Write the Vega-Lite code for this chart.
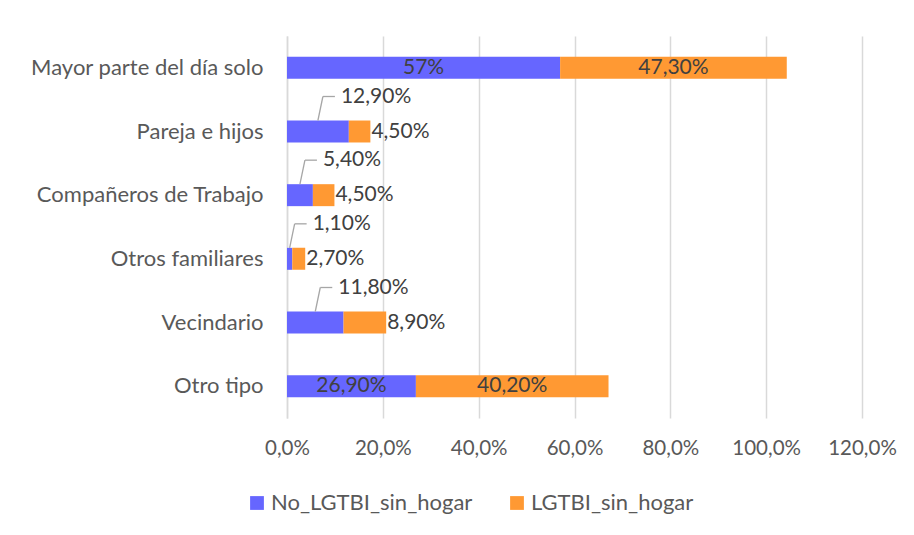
{
  "$schema": "https://vega.github.io/schema/vega-lite/v6.json",
  "width": 575,
  "height": 382,
  "padding": {"left": 17, "top": 36, "right": 52, "bottom": 5},
  "background": "white",
  "config": {"font": "Lato", "view": {"stroke": null}},
  "data": {
    "values": [
      {"categoria": "Mayor parte del día solo", "grupo": "No_LGTBI_sin_hogar", "valor": 57, "etiqueta": "57%"},
      {"categoria": "Mayor parte del día solo", "grupo": "LGTBI_sin_hogar", "valor": 47.3, "etiqueta": "47,30%"},
      {"categoria": "Pareja e hijos", "grupo": "No_LGTBI_sin_hogar", "valor": 12.9, "etiqueta": "12,90%"},
      {"categoria": "Pareja e hijos", "grupo": "LGTBI_sin_hogar", "valor": 4.5, "etiqueta": "4,50%"},
      {"categoria": "Compañeros de Trabajo", "grupo": "No_LGTBI_sin_hogar", "valor": 5.4, "etiqueta": "5,40%"},
      {"categoria": "Compañeros de Trabajo", "grupo": "LGTBI_sin_hogar", "valor": 4.5, "etiqueta": "4,50%"},
      {"categoria": "Otros familiares", "grupo": "No_LGTBI_sin_hogar", "valor": 1.1, "etiqueta": "1,10%"},
      {"categoria": "Otros familiares", "grupo": "LGTBI_sin_hogar", "valor": 2.7, "etiqueta": "2,70%"},
      {"categoria": "Vecindario", "grupo": "No_LGTBI_sin_hogar", "valor": 11.8, "etiqueta": "11,80%"},
      {"categoria": "Vecindario", "grupo": "LGTBI_sin_hogar", "valor": 8.9, "etiqueta": "8,90%"},
      {"categoria": "Otro tipo", "grupo": "No_LGTBI_sin_hogar", "valor": 26.9, "etiqueta": "26,90%"},
      {"categoria": "Otro tipo", "grupo": "LGTBI_sin_hogar", "valor": 40.2, "etiqueta": "40,20%"}
    ]
  },
  "transform": [
    {"stack": "valor", "groupby": ["categoria"], "sort": [{"field": "grupo", "order": "descending"}], "as": ["x0", "x1"]},
    {"calculate": "(datum.x0 + datum.x1) / 2", "as": "xmid"}
  ],
  "encoding": {
    "y": {
      "field": "categoria",
      "type": "nominal",
      "sort": ["Mayor parte del día solo", "Pareja e hijos", "Compañeros de Trabajo", "Otros familiares", "Vecindario", "Otro tipo"],
      "scale": {"paddingInner": 0.655, "paddingOuter": 0.3275},
      "axis": {
        "title": null,
        "domain": true,
        "domainColor": "#d9d9d9",
        "domainWidth": 1.5,
        "ticks": false,
        "labelPadding": 24,
        "labelFontSize": 22,
        "labelLimit": 300,
        "labelColor": "#595959",
        "minExtent": 270,
        "maxExtent": 270
      }
    }
  },
  "layer": [
    {
      "mark": {"type": "bar"},
      "encoding": {
        "x": {
          "field": "x0",
          "type": "quantitative",
          "scale": {"domain": [0, 120], "nice": false},
          "axis": {
            "title": null,
            "values": [0, 20, 40, 60, 80, 100, 120],
            "grid": true,
            "gridColor": "#d9d9d9",
            "gridWidth": 1.5,
            "domain": false,
            "ticks": false,
            "labelPadding": 20,
            "labelFontSize": 20.5,
            "labelFlush": false,
            "labelOverlap": false,
            "labelColor": "#595959",
            "labelExpr": "replace(format(datum.value, '.1f'), '.', ',') + '%'"
          }
        },
        "x2": {"field": "x1"},
        "color": {
          "field": "grupo",
          "type": "nominal",
          "scale": {"domain": ["No_LGTBI_sin_hogar", "LGTBI_sin_hogar"], "range": ["#6666ff", "#ff9933"]},
          "legend": {
            "title": null,
            "orient": "none",
            "direction": "horizontal",
            "legendX": -41,
            "legendY": 456,
            "symbolType": "square",
            "symbolSize": 190,
            "symbolStrokeWidth": 0,
            "labelFontSize": 22,
            "labelLimit": 400,
            "labelColor": "#595959",
            "labelOffset": 3,
            "columnPadding": 33
          }
        }
      }
    },
    {
      "transform": [{"filter": "datum.categoria == 'Mayor parte del día solo' || datum.categoria == 'Otro tipo'"}],
      "mark": {"type": "text", "align": "center", "baseline": "middle", "fontSize": 21, "color": "#404040"},
      "encoding": {
        "x": {"field": "xmid", "type": "quantitative"},
        "text": {"field": "etiqueta"}
      }
    },
    {
      "transform": [{"filter": "datum.categoria != 'Mayor parte del día solo' && datum.categoria != 'Otro tipo' && datum.grupo == 'LGTBI_sin_hogar'"}],
      "mark": {"type": "text", "align": "left", "baseline": "middle", "dx": 1, "fontSize": 21, "color": "#404040"},
      "encoding": {
        "x": {"field": "x1", "type": "quantitative"},
        "text": {"field": "etiqueta"}
      }
    },
    {
      "transform": [{"filter": "datum.categoria != 'Mayor parte del día solo' && datum.categoria != 'Otro tipo' && datum.grupo == 'No_LGTBI_sin_hogar'"}],
      "mark": {"type": "text", "align": "left", "baseline": "middle", "dx": 23, "dy": -35, "fontSize": 21, "color": "#404040"},
      "encoding": {
        "x": {"field": "xmid", "type": "quantitative"},
        "text": {"field": "etiqueta"}
      }
    },
    {
      "transform": [{"filter": "datum.categoria != 'Mayor parte del día solo' && datum.categoria != 'Otro tipo' && datum.grupo == 'No_LGTBI_sin_hogar'"}],
      "mark": {"type": "rule", "color": "#a6a6a6", "strokeWidth": 1.3, "yOffset": -11, "y2Offset": -35, "x2Offset": 5},
      "encoding": {
        "x": {"field": "xmid", "type": "quantitative"},
        "x2": {"field": "xmid"},
        "y2": {"field": "categoria"}
      }
    },
    {
      "transform": [{"filter": "datum.categoria != 'Mayor parte del día solo' && datum.categoria != 'Otro tipo' && datum.grupo == 'No_LGTBI_sin_hogar'"}],
      "mark": {"type": "rule", "color": "#a6a6a6", "strokeWidth": 1.3, "yOffset": -35, "xOffset": 5, "x2Offset": 17},
      "encoding": {
        "x": {"field": "xmid", "type": "quantitative"},
        "x2": {"field": "xmid"}
      }
    }
  ]
}
